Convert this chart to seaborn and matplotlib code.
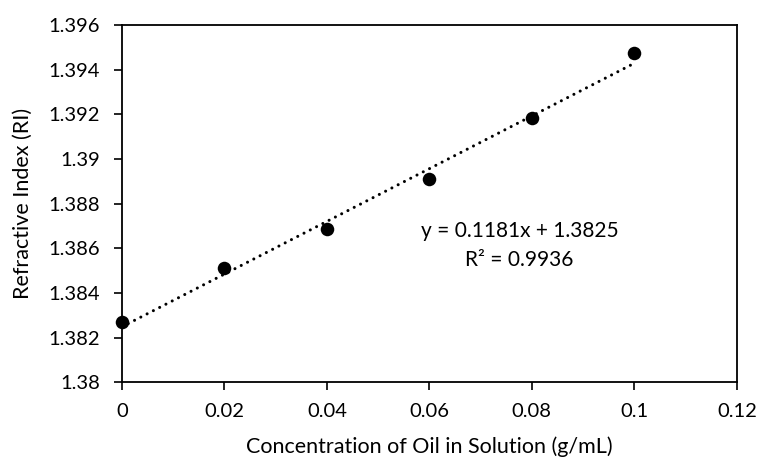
import numpy as np
import pandas as pd
import matplotlib
matplotlib.use("Agg")
import matplotlib.pyplot as plt
import seaborn as sns

# values
conc = [0.0, 0.02, 0.04, 0.06, 0.08, 0.10]
ri = [1.38269, 1.38510, 1.38686, 1.38910, 1.39182, 1.39475]
x_ticks = [0, 0.02, 0.04, 0.06, 0.08, 0.1, 0.12]
y_ticks = [1.38, 1.382, 1.384, 1.386, 1.388, 1.39, 1.392, 1.394, 1.396]
x_ticklabels = ["0", "0.02", "0.04", "0.06", "0.08", "0.1", "0.12"]
y_ticklabels = ["1.38", "1.382", "1.384", "1.386", "1.388", "1.39", "1.392", "1.394", "1.396"]
eq_text = "y = 0.1181x + 1.3825"
r2_text = "R² = 0.9936"

df = pd.DataFrame({"conc": conc, "ri": ri})

sns.set_style("white")
plt.rcParams["font.family"] = ["Lato", "DejaVu Sans"]
plt.rcParams["text.color"] = "black"
plt.rcParams["axes.labelcolor"] = "black"

fig = plt.figure(figsize=(7.6, 4.66), dpi=100)
ax = fig.add_axes([0.1605, 0.18, 0.809, 0.766])

# linear trendline (dotted) like Excel
sns.regplot(x="conc", y="ri", data=df, ax=ax, scatter=False, ci=None, truncate=True,
            line_kws=dict(color="black", lw=2.2, linestyle=(0, (0.01, 2.3)),
                          dash_capstyle="round"))
sns.scatterplot(x="conc", y="ri", data=df, ax=ax, color="black", s=95,
                edgecolor="black", linewidth=0, zorder=3, clip_on=False)

ax.text(0.0777, 1.38677, eq_text, ha="center", va="center", fontsize=15)
ax.text(0.0775, 1.38547, r2_text, ha="center", va="center", fontsize=15)

ax.set_xlim(0, 0.12)
ax.set_ylim(1.38, 1.396)
ax.set_xticks(x_ticks)
ax.set_xticklabels(x_ticklabels)
ax.set_yticks(y_ticks)
ax.set_yticklabels(y_ticklabels)
ax.tick_params(axis="both", direction="out", length=6, width=1.2, labelsize=14.5,
               colors="black")
ax.tick_params(axis="y", pad=10)
ax.tick_params(axis="x", pad=9)
ax.tick_params(bottom=True, left=True)
for sp in ax.spines.values():
    sp.set_linewidth(1.3)
    sp.set_color("black")

ax.set_xlabel("Concentration of Oil in Solution (g/mL)", fontsize=15.5, labelpad=12)
ax.set_ylabel("Refractive Index (RI)", fontsize=15.5, labelpad=11)

fig.savefig("out.png", dpi=100)
